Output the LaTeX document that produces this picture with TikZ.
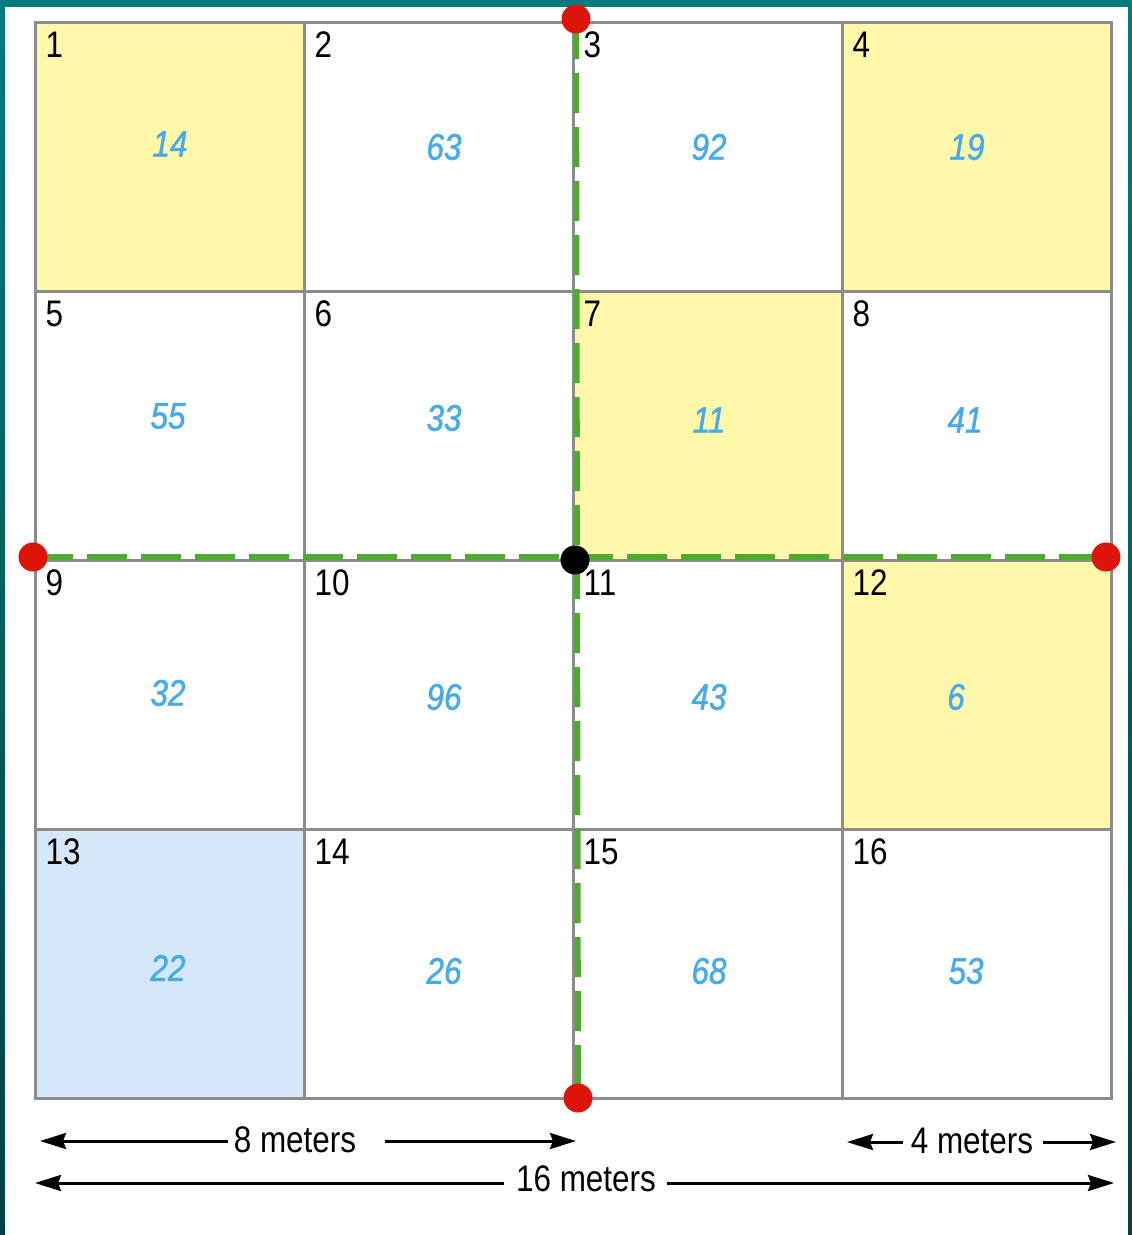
\documentclass[tikz,border=0pt]{standalone}
\usepackage{fontspec}
\setmainfont{Liberation Sans}[FakeStretch=0.85]
\newfontfamily\valfont{Liberation Sans}[FakeStretch=0.85, FakeBold=1.2]
\usepackage{tikz}
\usetikzlibrary{arrows.meta, positioning}
\usepackage{xcolor}
\definecolor{frameteal}{RGB}{0,124,124}
\definecolor{framedark}{RGB}{0,66,66}
\definecolor{gridgray}{RGB}{140,140,140}
\definecolor{cellyellow}{RGB}{255,248,170}
\definecolor{cellblue}{RGB}{212,232,250}
\definecolor{valblue}{RGB}{70,170,235}
\definecolor{pathgreen}{RGB}{80,170,50}
\definecolor{dotred}{RGB}{220,20,10}

\begin{document}
\begin{tikzpicture}[x=1pt, y=1pt, node distance=269pt,
  cell/.style={draw=gridgray, fill=white, line width=3pt, minimum size=269pt, inner sep=0pt, anchor=center},
  num/.style={anchor=north west, inner sep=0pt, font=\fontsize{37}{40}\selectfont},
  val/.style={inner sep=0pt, text=valblue, font=\fontsize{37}{40}\valfont\itshape},
  reddot/.style={circle, fill=dotred, minimum size=29pt, inner sep=0pt},
  greendash/.style={draw=pathgreen, line width=6pt, dash pattern=on 40pt off 14pt},
  dimtext/.style={inner sep=0pt, font=\fontsize{37}{40}\selectfont},
  dimline/.style={line width=3pt, -{Stealth[length=26pt, width=16pt, inset=3pt]}}]
  \useasboundingbox (0,0) rectangle (1132,-1235);
  \shade[top color=frameteal, bottom color=framedark] (0,0) rectangle (1132,-1235);
  \fill[white] (5,-7) rectangle (1128,-1235);

  % the sixteen cells
  \node[cell, fill=cellyellow] (c1) at (169.5,-156.5) {};
  \node[cell] (c2) [right of=c1] {};
  \node[cell] (c3) [right of=c2] {};
  \node[cell, fill=cellyellow] (c4) [right of=c3] {};
  \node[cell] (c5) [below of=c1] {};
  \node[cell] (c6) [right of=c5] {};
  \node[cell, fill=cellyellow] (c7) [right of=c6] {};
  \node[cell] (c8) [right of=c7] {};
  \node[cell] (c9) [below of=c5] {};
  \node[cell] (c10) [right of=c9] {};
  \node[cell] (c11) [right of=c10] {};
  \node[cell, fill=cellyellow] (c12) [right of=c11] {};
  \node[cell, fill=cellblue] (c13) [below of=c9] {};
  \node[cell] (c14) [right of=c13] {};
  \node[cell] (c15) [right of=c14] {};
  \node[cell] (c16) [right of=c15] {};
  \foreach \i in {1,...,16}
    \node[num] (n\i) at ([shift={(12pt,-11pt)}]c\i.north west) {\i};

  % cell values
  \node[val] (v1) at (170,-144) {14};
  \node[val] (v2) at (444,-147) {63};
  \node[val] (v3) at (709,-147) {92};
  \node[val] (v4) at (967,-147) {19};
  \node[val] (v5) at (168,-416) {55};
  \node[val] (v6) at (444,-418) {33};
  \node[val] (v7) at (709,-420) {11};
  \node[val] (v8) at (965,-420) {41};
  \node[val] (v9) at (168,-693) {32};
  \node[val] (v10) at (444,-697) {96};
  \node[val] (v11) at (709,-697) {43};
  \node[val] (v12) at (956,-697) {6};
  \node[val] (v13) at (168,-968) {22};
  \node[val] (v14) at (444,-971) {26};
  \node[val] (v15) at (709,-971) {68};
  \node[val] (v16) at (966,-971) {53};

  % dashed cross and its end points
  \coordinate (ptop) at (576,-19);
  \coordinate (pbottom) at (578,-1098);
  \coordinate (pleft) at (33,-557);
  \coordinate (pright) at (1106,-557);
  \draw[greendash] (ptop) -- (pbottom);
  \draw[greendash] (pleft) -- (pright);
  \node[reddot] (dtop) at (ptop) {};
  \node[reddot] (dbottom) at (pbottom) {};
  \node[reddot] (dleft) at (pleft) {};
  \node[reddot] (dright) at (pright) {};
  \node[reddot, fill=black] (dmid) at (575,-560) {};

  % dimensions
  \node[dimtext] (d8) at (295,-1140) {8 meters};
  \node[dimtext] (d4) at (972,-1141) {4 meters};
  \node[dimtext] (d16) at (586,-1179) {16 meters};
  \coordinate (d8l) at (40,-1141);
  \coordinate (d8r) at (576,-1141);
  \coordinate (d4l) at (847,-1142);
  \coordinate (d4r) at (1116,-1142);
  \coordinate (d16l) at (35,-1183);
  \coordinate (d16r) at (1114,-1183);
  \draw[dimline] ([xshift=-6pt]d8.west |- d8l) -- (d8l);
  \draw[dimline] ([xshift=29pt]d8.east |- d8r) -- (d8r);
  \draw[dimline] ([xshift=-8pt]d4.west |- d4l) -- (d4l);
  \draw[dimline] ([xshift=10pt]d4.east |- d4r) -- (d4r);
  \draw[dimline] ([xshift=-12pt]d16.west |- d16l) -- (d16l);
  \draw[dimline] ([xshift=11pt]d16.east |- d16r) -- (d16r);
\end{tikzpicture}
\end{document}
